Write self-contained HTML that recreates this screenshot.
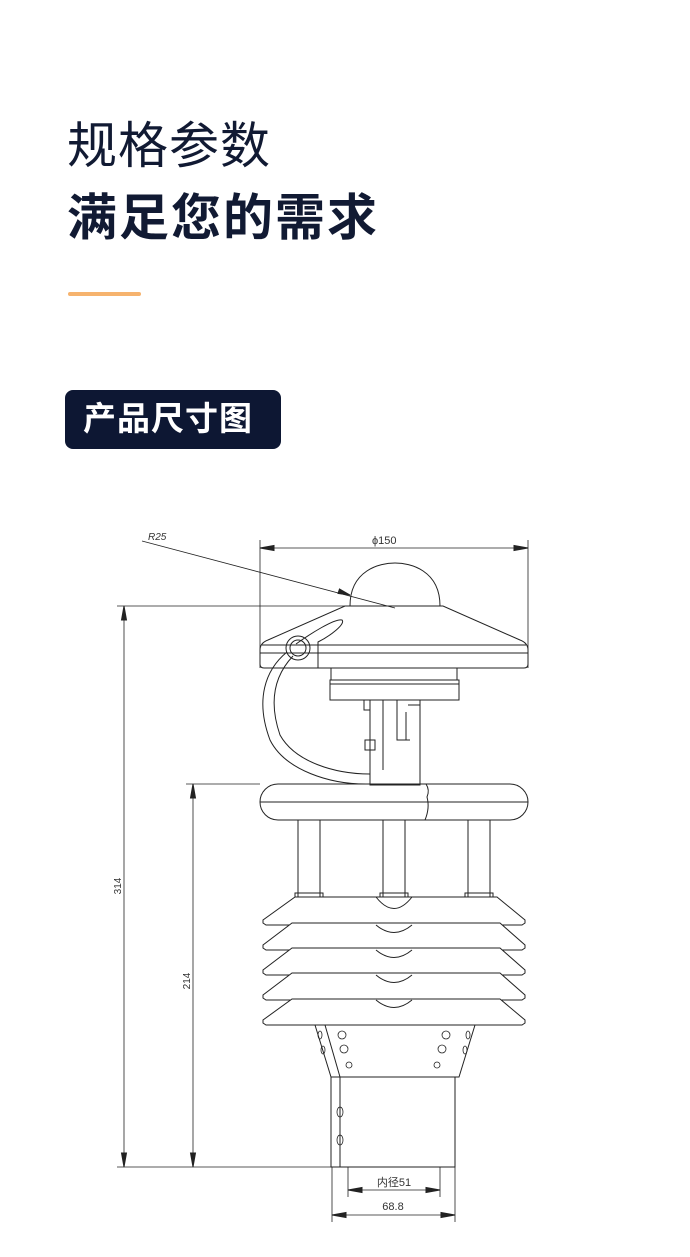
<!DOCTYPE html>
<html><head><meta charset="utf-8"><style>
html,body{margin:0;padding:0;background:#fff;width:690px;height:1257px;overflow:hidden}
.t{position:absolute;left:67px;font-family:"Liberation Sans","Noto Sans CJK SC",sans-serif;color:#111a33;white-space:nowrap}
</style></head><body>
<div class="t" style="top:116px;font-size:50px;font-weight:400;letter-spacing:1px;line-height:60px">规格参数</div>
<div class="t" style="top:188px;font-size:50px;font-weight:700;letter-spacing:2px;line-height:60px">满足您的需求</div>
<div style="position:absolute;left:68px;top:292px;width:73px;height:4px;border-radius:2px;background:#f6b36e"></div>
<div style="position:absolute;left:65px;top:390px;width:216px;height:59px;border-radius:8px;background:#0d1733"></div>
<div class="t" style="left:83px;top:397px;font-size:33px;font-weight:700;color:#fff;line-height:44px;letter-spacing:1px">产品尺寸图</div>
<svg style="position:absolute;left:0;top:0" width="690" height="1257" viewBox="0 0 690 1257" fill="none" stroke="#222" stroke-width="1">
<line x1="260" y1="540" x2="260" y2="668" stroke-width="0.8"/>
<line x1="528" y1="540" x2="528" y2="668" stroke-width="0.8"/>
<line x1="260" y1="548" x2="528" y2="548" stroke-width="0.8"/>
<path d="M260 548 l14 -2.5 v5z M528 548 l-14 -2.5 v5z" fill="#222"/>
<text x="372" y="544" font-family="Liberation Sans" font-size="11" fill="#333" stroke="none">ϕ150</text>
<text x="148" y="540" font-family="Liberation Sans" font-size="10" font-style="italic" fill="#333" stroke="none">R25</text>
<line x1="142" y1="541" x2="395" y2="608" stroke-width="0.8"/>
<path d="M350 595 l-12 -1.5 l1.5 -4.5z" fill="#222"/>
<line x1="117" y1="606" x2="350" y2="606" stroke-width="0.8"/>
<line x1="124" y1="606" x2="124" y2="1167" stroke-width="0.8"/>
<path d="M124 606 l-2.5 14 h5z M124 1167 l-2.5 -14 h5z" fill="#222"/>
<text transform="translate(121,886) rotate(-90)" text-anchor="middle" font-family="Liberation Sans" font-size="10" fill="#333" stroke="none">314</text>
<line x1="186" y1="784" x2="260" y2="784" stroke-width="0.8"/>
<line x1="193" y1="784" x2="193" y2="1167" stroke-width="0.8"/>
<path d="M193 784 l-2.5 14 h5z M193 1167 l-2.5 -14 h5z" fill="#222"/>
<text transform="translate(190,981) rotate(-90)" text-anchor="middle" font-family="Liberation Sans" font-size="10" fill="#333" stroke="none">214</text>
<line x1="117" y1="1167" x2="455" y2="1167" stroke-width="0.8"/>
<line x1="348" y1="1167" x2="348" y2="1197" stroke-width="0.8"/>
<line x1="440" y1="1167" x2="440" y2="1197" stroke-width="0.8"/>
<line x1="348" y1="1190" x2="440" y2="1190" stroke-width="0.8"/>
<path d="M348 1190 l14 -2.5 v5z M440 1190 l-14 -2.5 v5z" fill="#222"/>
<text x="394" y="1186" text-anchor="middle" font-family="Liberation Sans,Noto Sans CJK SC,sans-serif" font-size="11" fill="#333" stroke="none">内径51</text>
<line x1="332" y1="1167" x2="332" y2="1222" stroke-width="0.8"/>
<line x1="455" y1="1167" x2="455" y2="1222" stroke-width="0.8"/>
<line x1="332" y1="1215" x2="455" y2="1215" stroke-width="0.8"/>
<path d="M332 1215 l14 -2.5 v5z M455 1215 l-14 -2.5 v5z" fill="#222"/>
<text x="393" y="1210" text-anchor="middle" font-family="Liberation Sans" font-size="11" fill="#333" stroke="none">68.8</text>
<path d="M350 606 C350 570 380 563 395 563 C410 563 440 570 440 606"/>
<path d="M345 606 H443 L520 640 Q528 643 528 650 V664 Q528 668 524 668 H264 Q260 668 260 664 V650 Q260 643 268 640 Z"/>
<line x1="260" y1="653" x2="528" y2="653"/>
<line x1="262" y1="645" x2="526" y2="645"/>
<path d="M296 644 C310 634 335 618 342 620 C346 624 330 636 318 642 V668"/>
<circle cx="298" cy="648" r="12"/><circle cx="298" cy="648" r="8"/>
<path d="M287 652 C265 670 255 700 270 740 C285 770 330 785 370 784"/>
<path d="M293 656 C275 675 268 700 280 735 C295 762 335 774 370 774"/>
<rect x="331" y="668" width="126" height="12"/>
<rect x="330" y="680" width="129" height="20"/>
<line x1="330" y1="684" x2="459" y2="684"/>
<rect x="370" y="700" width="50" height="85"/>
<path d="M364 700 V710 H370 M383 700 v70 M397 700 V740 H410 M408 705 H420 V712 M406 712 V740"/>
<rect x="365" y="740" width="10" height="10"/>
<rect x="260" y="784" width="268" height="36" rx="18"/>
<line x1="260" y1="802" x2="528" y2="802"/>
<path d="M426 784 Q430 790 427 797 Q430 808 425 820"/>
<rect x="298" y="820" width="22" height="77"/><rect x="383" y="820" width="22" height="77"/><rect x="468" y="820" width="22" height="77"/>
<rect x="295" y="893" width="28" height="4"/><rect x="380" y="893" width="28" height="4"/><rect x="465" y="893" width="28" height="4"/>
<g fill="#fff">
<path d="M295 897 H497 L525 920 V923 L522 925 H266 L263 923 V920 Z"/>
<path d="M292 923 H500 L525 945 V948 L522 950 H266 L263 948 V945 Z"/>
<path d="M292 948 H500 L525 970 V973 L522 975 H266 L263 973 V970 Z"/>
<path d="M292 973 H500 L525 995 V998 L522 1000 H266 L263 998 V995 Z"/>
<path d="M292 999 H500 L525 1020 V1023 L522 1025 H266 L263 1023 V1020 Z"/>
</g>
<path d="M376 897 Q394 920 412 897 M376 925 Q394 940 412 925 M376 950 Q394 965 412 950 M376 975 Q394 990 412 975 M376 1000 Q394 1015 412 1000"/>
<path d="M315 1025 L331 1077 H459 L475 1025"/>
<line x1="325" y1="1025" x2="340" y2="1077"/>
<rect x="331" y="1077" width="124" height="90"/>
<line x1="340" y1="1077" x2="340" y2="1167"/>
<g stroke-width="0.8">
<circle cx="342" cy="1035" r="4"/><circle cx="344" cy="1049" r="4"/><circle cx="349" cy="1065" r="3"/>
<circle cx="446" cy="1035" r="4"/><circle cx="442" cy="1049" r="4"/><circle cx="437" cy="1065" r="3"/>
<ellipse cx="340" cy="1112" rx="3" ry="5"/><ellipse cx="340" cy="1140" rx="3" ry="5"/>
<ellipse cx="320" cy="1035" rx="2" ry="4"/><ellipse cx="323" cy="1050" rx="2" ry="4"/>
<ellipse cx="468" cy="1035" rx="2" ry="4"/><ellipse cx="465" cy="1050" rx="2" ry="4"/>
</g>
</svg>
</body></html>
